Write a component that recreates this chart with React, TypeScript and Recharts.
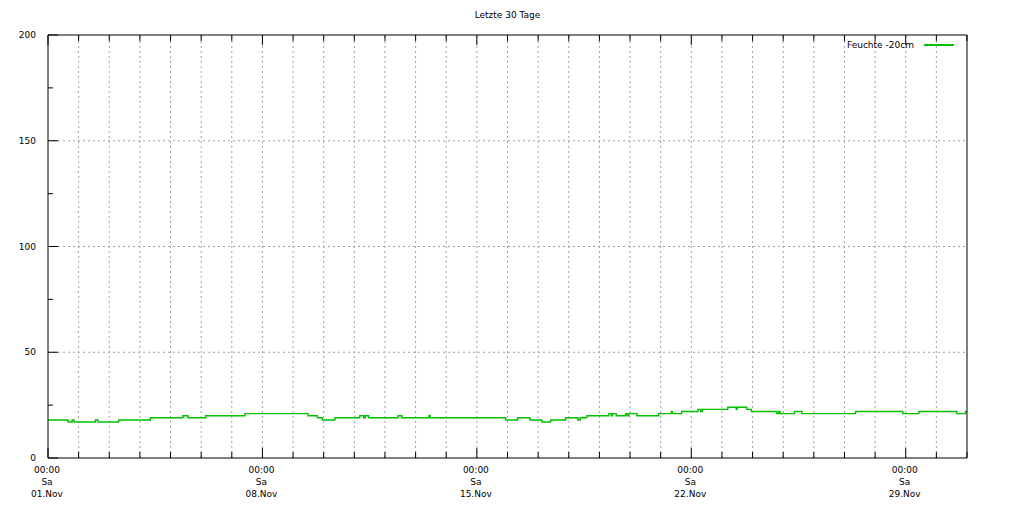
import { LineChart, Line, XAxis, YAxis, ReferenceLine } from 'recharts'

// Stunden seit 01.Nov 00:00 und Feuchte-Werte (Stufen)
const hours = [
  0, 15.7, 18.9, 20.4, 37.1, 39.2, 55.4, 80.2, 105.7, 109.7, 123.5, 154.3,
  203.7, 211, 215, 224.8, 244.2, 247.3, 248.6, 251.2, 274.2, 277.3, 298.4, 299.4,
  358.5, 367.9, 377.6, 387, 393.8, 405.5, 415.2, 417, 422.2, 439.4, 441.3, 442.3,
  445.2, 452.5, 453.8, 455.1, 461.4, 478.4, 488.3, 489.1, 496.4, 509.2, 511.3, 512.6,
  532.6, 539.2, 540, 547.5, 551, 571, 572.4, 573.5, 584.9, 590.6, 632.7, 669.7,
  682.3, 712, 718.8, 720,
]
const feuchte = [
  18, 17, 18, 17, 18, 17, 18, 19, 20, 19, 20, 21,
  20, 19, 18, 19, 20, 19, 20, 19, 20, 19, 20, 19,
  18, 19, 18, 17, 18, 19, 18, 19, 20, 21, 20, 21,
  20, 21, 20, 21, 20, 21, 22, 21, 22, 23, 22, 23,
  24, 23, 24, 23, 22, 21, 22, 21, 22, 21, 22, 21,
  22, 21, 22, 22,
]

const xTicks = Array.from({ length: 31 }, (_, i) => i * 24)
const yTicks = [0, 25, 50, 75, 100, 125, 150, 175, 200]
const yGrid = [50, 100, 150]
const dateLabels = ['01.Nov', '08.Nov', '15.Nov', '22.Nov', '29.Nov']
const weekday = 'Sa'

const data = hours.map((t, i) => ({ t, v: feuchte[i] }))

const FONT = 'DejaVu Sans, sans-serif'
const GREEN = '#00c000'

function BottomTick({ x, y, payload }: any) {
  const major = payload.value % 168 === 0
  const idx = payload.value / 168
  return (
    <g>
      <line x1={x} y1={y} x2={x} y2={y - (major ? 10 : 6)} stroke="#000" />
      {major && (
        <text x={x - 1} y={y} textAnchor="middle" fontSize={9} fontFamily={FONT} fill="#000">
          <tspan x={x - 1} dy={14.5}>00:00</tspan>
          <tspan x={x - 1} dy={12}>{weekday}</tspan>
          <tspan x={x - 1} dy={12}>{dateLabels[idx]}</tspan>
        </text>
      )}
    </g>
  )
}

function TopTick({ x, y, payload }: any) {
  const major = payload.value % 168 === 0
  return <line x1={x} y1={y} x2={x} y2={y + (major ? 10 : 6)} stroke="#000" />
}

function LeftTick({ x, y, payload }: any) {
  const major = payload.value % 50 === 0
  return (
    <g>
      <line x1={x} y1={y} x2={x + (major ? 10 : 5)} y2={y} stroke="#000" />
      {major && (
        <text x={x - 12} y={y + 3} textAnchor="end" fontSize={9} fontFamily={FONT} fill="#000">
          {payload.value}
        </text>
      )}
    </g>
  )
}

function RightTick({ x, y, payload }: any) {
  const major = payload.value % 50 === 0
  return (
    <g>
      <line x1={x} y1={y} x2={x - (major ? 10 : 5)} y2={y} stroke="#000" />
      {major && (
        <text x={x + 8} y={y + 3} textAnchor="start" fontSize={9} fontFamily={FONT} fill="#000">
          {payload.value}
        </text>
      )}
    </g>
  )
}

export default function App() {
  return (
    <div style={{ position: 'absolute', left: 0, top: 0, width: 1015, height: 507, background: '#fff' }}>
      <div style={{ position: 'absolute', left: 0, width: 1015, top: 10, textAlign: 'center', fontFamily: FONT, fontSize: 9 }}>
        Letzte 30 Tage
      </div>
      <div style={{ position: 'absolute', left: 847, top: 40, display: 'flex', alignItems: 'center', fontFamily: FONT, fontSize: 9, zIndex: 2 }}>
        <span>Feuchte -20cm</span>
        <span style={{ display: 'inline-block', width: 30, height: 1.2, background: GREEN, marginLeft: 10 }} />
      </div>
      <LineChart width={1015} height={507} data={data} margin={{ top: 0, right: 0, bottom: 0, left: 0 }}>
        <XAxis dataKey="t" type="number" domain={[0, 720]} ticks={xTicks} interval={0}
               height={49} tickSize={0} tickMargin={0} tickLine={false} axisLine={{ stroke: '#000' }}
               tick={<BottomTick />} allowDataOverflow />
        <XAxis xAxisId="top" orientation="top" dataKey="t" type="number" domain={[0, 720]} ticks={xTicks}
               interval={0} height={35} tickSize={0} tickMargin={0} tickLine={false}
               axisLine={{ stroke: '#000' }} tick={<TopTick />} allowDataOverflow />
        <YAxis type="number" domain={[0, 200]} ticks={yTicks} interval={0} width={48} tickSize={0}
               tickMargin={0} tickLine={false} axisLine={{ stroke: '#000' }} tick={<LeftTick />} />
        <YAxis yAxisId="right" orientation="right" type="number" domain={[0, 200]} ticks={yTicks}
               interval={0} width={48} tickSize={0} tickMargin={0} tickLine={false}
               axisLine={{ stroke: '#000' }} tick={<RightTick />} />
        {xTicks.slice(1, -1).map((t) => (
          <ReferenceLine key={'x' + t} x={t} stroke="#a0a0a0" strokeDasharray="2 3" />
        ))}
        {yGrid.map((v) => (
          <ReferenceLine key={'y' + v} y={v} stroke="#a0a0a0" strokeDasharray="2 3" />
        ))}
        <Line type="stepAfter" dataKey="v" stroke={GREEN} strokeWidth={1.4} dot={false}
              isAnimationActive={false} />
      </LineChart>
    </div>
  )
}
